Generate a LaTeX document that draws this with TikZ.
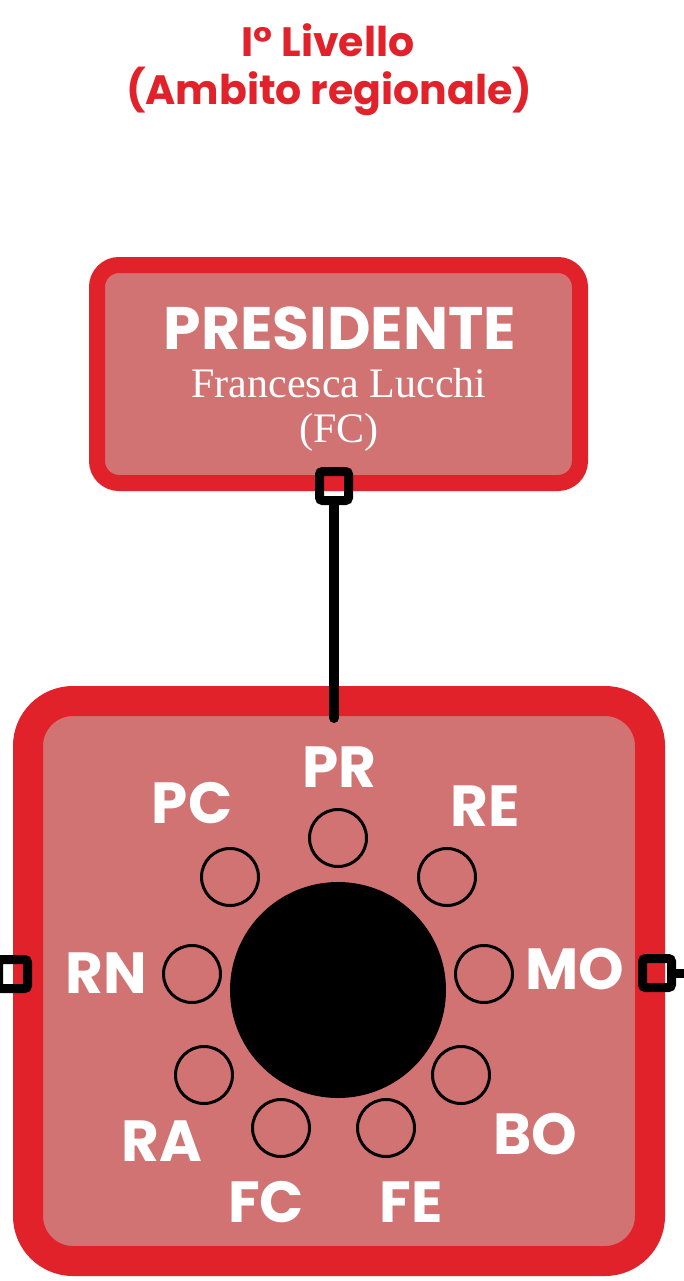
\documentclass[tikz,border=0pt]{standalone}
\usepackage{fontspec}
\newfontfamily\pop{Poppins}
\newfontfamily\ser{Liberation Serif}
\definecolor{redb}{HTML}{E2222B}
\definecolor{pinkf}{HTML}{D17373}
\begin{document}
\begin{tikzpicture}[x=1pt,y=-1pt,
  boxframe/.style={draw=redb,fill=pinkf},
  port/.style={draw=black,line width=9,minimum size=29,inner sep=0,rounded corners=3},
  wire/.style={draw=black,line width=10,line cap=round},
  seat/.style={circle,draw=black,line width=3,minimum size=57,inner sep=0},
  lab/.style={text=white,font=\pop\bfseries\fontsize{58}{60}\selectfont,inner sep=0},
  ttl/.style={text=redb,font=\pop\bfseries\fontsize{41}{44}\selectfont,inner sep=0,anchor=base}]
\useasboundingbox[fill=white] (0,0) rectangle (683,1281);
% title
\node[ttl] (t1) at (328,57) {I° Livello};
\node[ttl] (t2) at (329,105) {(Ambito regionale)};
% top box
\draw[boxframe,line width=16,rounded corners=22] (97,265) rectangle (580,483);
\node[text=white,font=\pop\bfseries\fontsize{60}{62}\selectfont,inner sep=0,anchor=base] (pres) at (340,349) {PRESIDENTE};
\node[text=white,font=\ser\fontsize{42}{44}\selectfont,inner sep=0,anchor=base] (name) at (339,397) {Francesca Lucchi};
\node[text=white,font=\ser\fontsize{42}{44}\selectfont,inner sep=0,anchor=base] (abbr) at (339,442) {(FC)};
% bottom box
\draw[boxframe,line width=30,rounded corners=45] (28,701) rectangle (650,1261);
% ports
\node[port] (ptop) at (334,486) {};
\node[port] (pleft) at (13,974) {};
\node[port] (pright) at (657,973) {};
\coordinate (out) at (700,973);
\coordinate (assembly) at (334,718);
\draw[wire] (ptop.south) -- (assembly);
\draw[black,line width=9] (pright.east) -- (out);
% council
\fill[black] (338,990) circle (108);
\node[seat] (cPR) at (338,838) {};
\node[seat] (cRE) at (447,877) {};
\node[seat] (cMO) at (484,974) {};
\node[seat] (cBO) at (461,1075) {};
\node[seat] (cFE) at (386,1128) {};
\node[seat] (cFC) at (281,1128) {};
\node[seat] (cRA) at (204,1075) {};
\node[seat] (cRN) at (192,974) {};
\node[seat] (cPC) at (230,877) {};
% labels
\node[lab] (lPR) at (339,767) {PR};
\node[lab] (lRE) at (485,806) {RE};
\node[lab] (lMO) at (575,969) {MO};
\node[lab] (lBO) at (535,1134) {BO};
\node[lab] (lFE) at (411,1202) {FE};
\node[lab] (lFC) at (266,1202) {FC};
\node[lab] (lRA) at (162,1141) {RA};
\node[lab] (lRN) at (106,973) {RN};
\node[lab] (lPC) at (192,803) {PC};
\end{tikzpicture}
\end{document}
